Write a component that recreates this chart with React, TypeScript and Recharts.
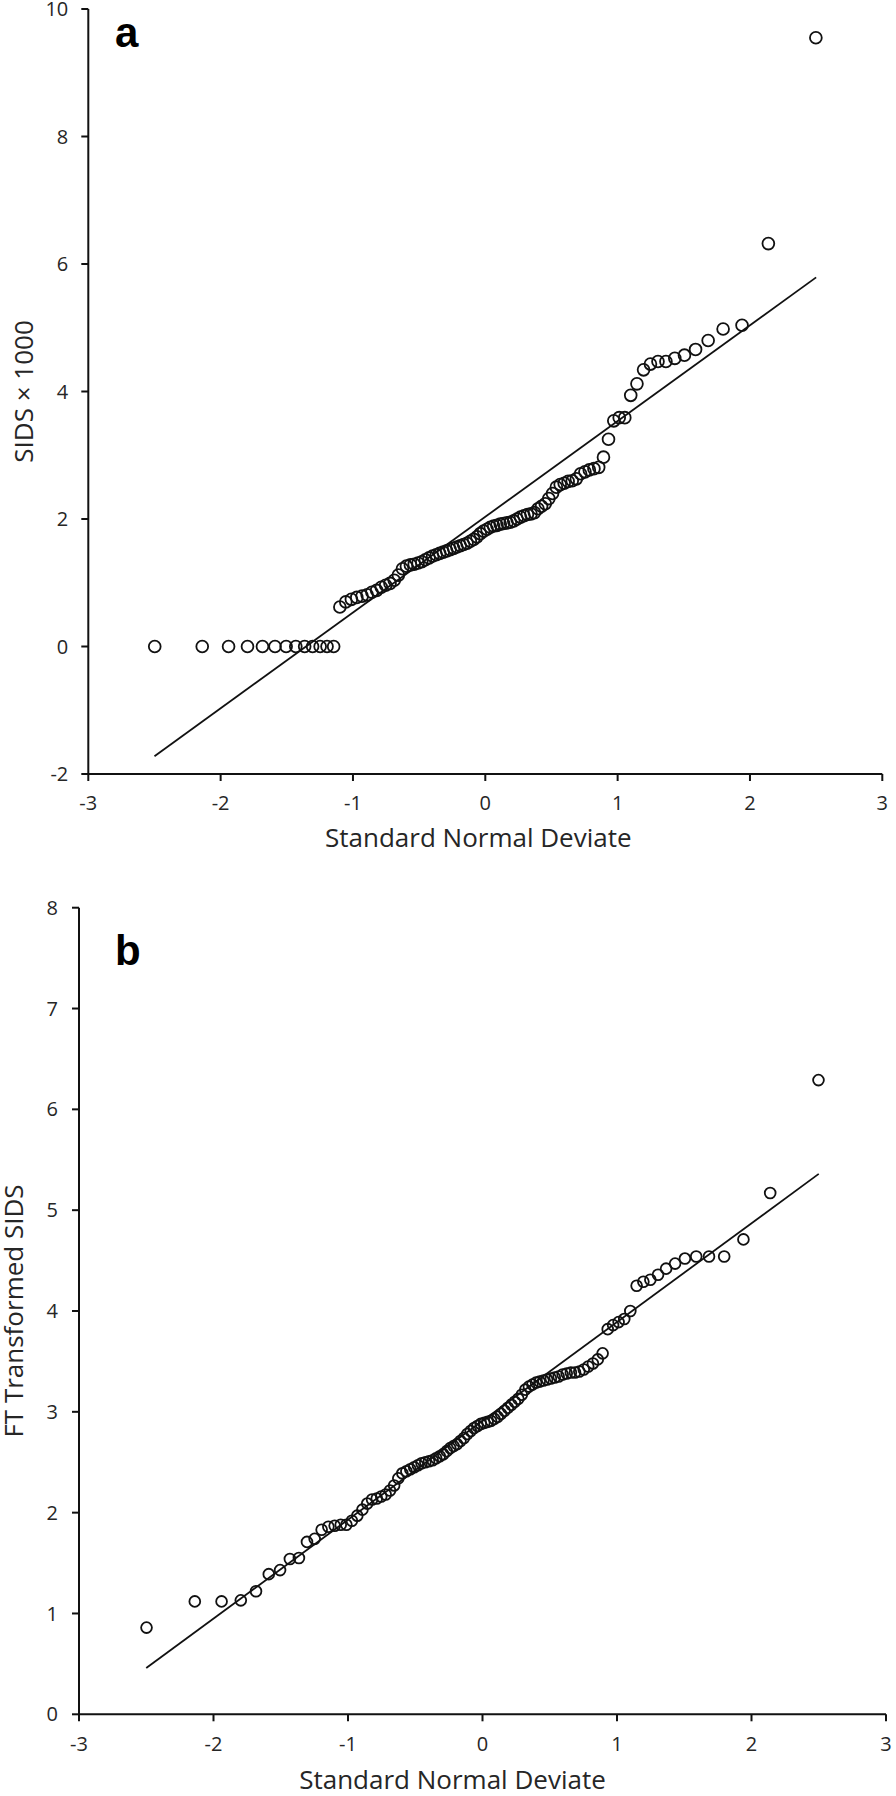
import { ScatterChart, Scatter, XAxis, YAxis, ReferenceLine } from 'recharts';

// standard normal deviates of the 100 ranked counties
const deviates = [
  -2.498, -2.139, -1.94, -1.797, -1.684, -1.589, -1.505, -1.432, -1.365, -1.305,
  -1.248, -1.196, -1.146, -1.099, -1.054, -1.012, -0.971, -0.931, -0.893, -0.857,
  -0.821, -0.786, -0.753, -0.72, -0.688, -0.657, -0.626, -0.596, -0.566, -0.537,
  -0.508, -0.48, -0.453, -0.425, -0.398, -0.371, -0.345, -0.318, -0.292, -0.266,
  -0.24, -0.215, -0.189, -0.164, -0.138, -0.113, -0.088, -0.063, -0.038, -0.013,
  0.013, 0.038, 0.063, 0.088, 0.113, 0.138, 0.164, 0.189, 0.215, 0.24,
  0.266, 0.292, 0.318, 0.345, 0.371, 0.398, 0.425, 0.453, 0.48, 0.508,
  0.537, 0.566, 0.596, 0.626, 0.657, 0.688, 0.72, 0.753, 0.786, 0.821,
  0.857, 0.893, 0.931, 0.971, 1.012, 1.054, 1.099, 1.146, 1.196, 1.248,
  1.305, 1.365, 1.432, 1.505, 1.589, 1.684, 1.797, 1.94, 2.139, 2.498,
];

// panel a: SIDS rate x 1000, sorted
const sidsRate = [
  0, 0, 0, 0, 0, 0, 0, 0, 0, 0,
  0, 0, 0, 0.62, 0.7, 0.74, 0.77, 0.79, 0.81, 0.85,
  0.88, 0.93, 0.96, 0.99, 1.04, 1.12, 1.22, 1.26, 1.28, 1.29,
  1.31, 1.33, 1.36, 1.39, 1.42, 1.44, 1.46, 1.48, 1.5, 1.52,
  1.54, 1.56, 1.58, 1.6, 1.62, 1.65, 1.68, 1.72, 1.77, 1.81,
  1.84, 1.87, 1.89, 1.9, 1.92, 1.93, 1.94, 1.95, 1.97, 2.0,
  2.03, 2.05, 2.07, 2.08, 2.1, 2.16, 2.2, 2.24, 2.32, 2.4,
  2.5, 2.54, 2.56, 2.59, 2.6, 2.63, 2.71, 2.74, 2.77, 2.79,
  2.81, 2.97, 3.25, 3.54, 3.59, 3.59, 3.94, 4.12, 4.34, 4.43,
  4.47, 4.47, 4.52, 4.57, 4.66, 4.8, 4.98, 5.04, 6.32, 9.55,
];

// panel b: Freeman-Tukey transformed SIDS, sorted
const ftSids = [
  0.86, 1.12, 1.12, 1.13, 1.22, 1.39, 1.43, 1.54, 1.55, 1.71,
  1.74, 1.83, 1.86, 1.87, 1.88, 1.88, 1.92, 1.97, 2.03, 2.09,
  2.13, 2.14, 2.16, 2.18, 2.22, 2.27, 2.34, 2.39, 2.41, 2.43,
  2.45, 2.47, 2.49, 2.5, 2.51, 2.52, 2.54, 2.56, 2.58, 2.61,
  2.64, 2.66, 2.68, 2.71, 2.74, 2.78, 2.81, 2.84, 2.86, 2.88,
  2.89, 2.9, 2.91, 2.93, 2.95, 2.98, 3.01, 3.04, 3.07, 3.1,
  3.13, 3.17, 3.22, 3.25, 3.27, 3.29, 3.3, 3.31, 3.32, 3.33,
  3.34, 3.35, 3.37, 3.38, 3.39, 3.39, 3.4, 3.42, 3.45, 3.48,
  3.52, 3.58, 3.82, 3.86, 3.89, 3.92, 4.0, 4.25, 4.29, 4.31,
  4.36, 4.42, 4.47, 4.52, 4.54, 4.54, 4.54, 4.71, 5.17, 6.29,
];

// fitted normal lines (end points)
const fitA = [{ x: -2.5, y: -1.72 }, { x: 2.5, y: 5.79 }];
const fitB = [{ x: -2.5, y: 0.46 }, { x: 2.5, y: 5.36 }];

const xTicks = [-3, -2, -1, 0, 1, 2, 3];
const yTicksA = [-2, 0, 2, 4, 6, 8, 10];
const yTicksB = [0, 1, 2, 3, 4, 5, 6, 7, 8];

const pointsA = deviates.map((x, i) => ({ x, y: sidsRate[i] }));
const pointsB = deviates.map((x, i) => ({ x, y: ftSids[i] }));

const FONT = '"Open Sans", sans-serif';
const INK = '#111';
const TEXT = '#262626';
const tickStyle = { fill: TEXT, fontSize: 20, fontFamily: FONT };
const titleStyle = { fill: TEXT, fontSize: 26, fontFamily: FONT, textAnchor: 'middle' as const };

const ring = (r: number) => (p: any) => (
  <circle cx={p.cx} cy={p.cy} r={r} fill="none" stroke={INK} strokeWidth={1.8} />
);

const App = () => {
  return (
    <div style={{ position: 'absolute', left: 0, top: 0, width: 896, height: 1796, background: '#fff' }}>
      <div style={{ position: 'absolute', left: 0, top: 0 }}>
        <ScatterChart width={896} height={860} margin={{ top: 9, right: 13.7, bottom: 10, left: 0 }}>
          <XAxis
            type="number" dataKey="x" domain={[-3, 3]} ticks={xTicks} interval={0}
            height={76} tickSize={7} tickMargin={15} stroke={INK} strokeWidth={2} tick={tickStyle}
            label={{ value: 'Standard Normal Deviate', position: 'insideBottom', offset: 3, dx: -7, style: titleStyle }}
          />
          <YAxis
            type="number" dataKey="y" domain={[-2, 10]} ticks={yTicksA} interval={0}
            width={88.3} tickSize={7} tickMargin={13} stroke={INK} strokeWidth={2} tick={tickStyle}
            label={{ value: 'SIDS × 1000', angle: -90, position: 'insideLeft', offset: 24, style: titleStyle }}
          />
          <ReferenceLine segment={fitA} stroke={INK} strokeWidth={1.8} />
          <Scatter data={pointsA} shape={ring(5.9)} isAnimationActive={false} />
        </ScatterChart>
      </div>
      <div style={{ position: 'absolute', left: 0, top: 880 }}>
        <ScatterChart width={896} height={916} margin={{ top: 27.7, right: 10, bottom: 1.7, left: 0 }}>
          <XAxis
            type="number" dataKey="x" domain={[-3, 3]} ticks={xTicks} interval={0}
            height={80} tickSize={7} tickMargin={15} stroke={INK} strokeWidth={2} tick={tickStyle}
            label={{ value: 'Standard Normal Deviate', position: 'insideBottom', offset: 5, dx: -30, style: titleStyle }}
          />
          <YAxis
            type="number" dataKey="y" domain={[0, 8]} ticks={yTicksB} interval={0}
            width={79} tickSize={7} tickMargin={14} stroke={INK} strokeWidth={2} tick={tickStyle}
            label={{ value: 'FT Transformed SIDS', angle: -90, position: 'insideLeft', offset: 14, style: titleStyle }}
          />
          <ReferenceLine segment={fitB} stroke={INK} strokeWidth={1.8} />
          <Scatter data={pointsB} shape={ring(5.4)} isAnimationActive={false} />
        </ScatterChart>
      </div>
      <svg width={896} height={1796} style={{ position: 'absolute', left: 0, top: 0, pointerEvents: 'none' }}>
        <text x={115} y={47} fontFamily='"Liberation Sans", Arial, sans-serif' fontWeight="bold" fontSize={42} fill="#000">a</text>
        <text x={115} y={965} fontFamily='"Liberation Sans", Arial, sans-serif' fontWeight="bold" fontSize={42} fill="#000">b</text>
      </svg>
    </div>
  );
};

export default App;
